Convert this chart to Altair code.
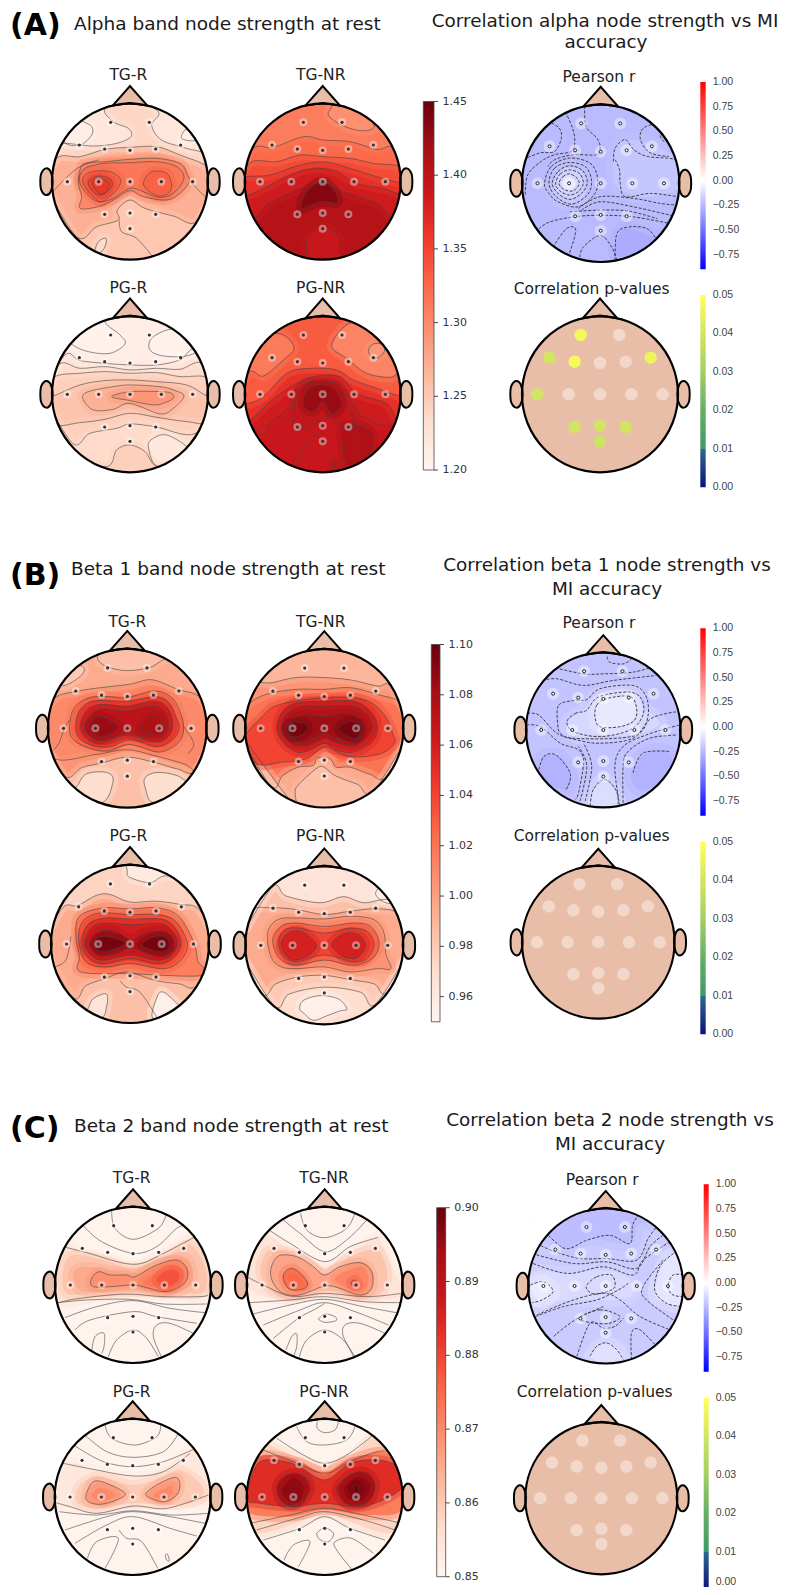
import altair as alt
import pandas as pd

N, NE, E, SE, S, SW, W, NW = "N", "NE", "E", "SE", "S", "SW", "W", "NW"
RIM = {"N": (0, -265), "NE": (187, -187), "E": (265, 0), "SE": (187, 187),
       "S": (0, 265), "SW": (-187, 187), "W": (-265, 0), "NW": (-187, -187)}
TOP = [E, NE, N, NW, W]
BOT = [E, SE, S, SW, W]

ELECTRODES = [(-58, -178), (58, -178), (-152, -110), (-76, -98), (0, -94), (77, -98), (152, -110),
              (-188, 0), (-94, 0), (0, 0), (94, 0), (188, 0), (-76, 98), (0, 94), (77, 98), (0, 141)]
P_A = [0.047, None, 0.04, 0.048, None, None, 0.046, 0.04, None, None, None, None, 0.04, 0.04, 0.04, 0.039]
EAR_L = [(-252, -40), (-238, -30), (-232, 0), (-238, 30), (-252, 40), (-266, 25), (-269, 0), (-266, -25)]
EAR_R = [(252, -40), (266, -25), (269, 0), (266, 25), (252, 40), (238, 30), (232, 0), (238, -30)]
NOSE = [(-52, -228), (0, -287), (52, -228), (0, -236)]

# Alpha band
A_TGR = dict(base=1.27, bands=[
 (1.24, 1, [(83,292),(150,290),(225,268),(300,262),(380,260),(450,285),(530,318),*TOP]),
 (1.222, 1, [(225,145),(250,185),(295,205),(303,230),(260,250),(190,258),(105,250),(90,262),NW,N]),
 (1.21, 1, [(103,245),(150,255),(185,225),(185,200),(160,185),(125,170),NW]),
 (1.222, 1, [(385,155),(365,195),(395,240),(470,265),(525,285),E,NE,N]),
 (1.208, 1, [(455,235),(465,210),(490,200),(510,225),(492,242)]),
 (1.252, 1, [(140,530),(200,500),(265,480),(262,450),(300,420),(345,445),(430,468),(500,485),*BOT]),
 (1.235, 1, [(195,575),(205,545),(228,535),(225,560),(210,578)]),
 (1.30, 1, [(150,330),(165,310),(225,305),(300,298),(380,295),(450,310),(470,340),(478,365),(450,400),(410,420),(340,410),(300,392),(250,420),(205,440),(150,445),(155,410),(145,370)]),
 (1.315, 1, [(148,360),(165,325),(225,310),(300,308),(380,305),(440,320),(462,355),(430,400),(385,412),(340,395),(300,385),(250,415),(205,425),(170,400)]),
 (1.33, 1, [(158,355),(185,335),(240,335),(272,360),(255,395),(215,425),(190,410),(165,380)]),
 (1.33, 1, [(340,368),(365,335),(410,340),(425,375),(415,400),(385,408),(355,392)]),
 (1.345, 1, [(175,365),(205,348),(240,358),(245,380),(215,405),(190,395)]),
 (1.36, 1, [(185,365),(210,355),(238,370),(225,398),(205,398)]),
], lines=[[(68,395),(112,350),(150,320),(205,300)], [(478,360),(500,385),(528,412)], [(268,480),(275,515),(320,535),(368,590)]])

A_TGN = dict(base=1.405, bands=[
 (1.385, 1, [(665,470),(715,430),(790,395),(815,385),(878,365),(940,395),(1040,430),(1100,475),*TOP]),
 (1.365, 1, [(645,405),(700,385),(780,345),(850,325),(920,335),(980,370),(1060,385),(1112,400),*TOP]),
 (1.345, 1, [(648,350),(720,345),(800,318),(880,305),(950,322),(1040,350),(1112,368),*TOP]),
 (1.325, 1, [(665,305),(740,305),(810,285),(878,290),(960,295),(1030,310),(1110,320),*TOP]),
 (1.31, 1, [(670,265),(730,262),(820,230),(880,240),(960,245),(1040,268),(1090,265),*TOP]),
 (1.295, 1, [(905,135),(895,165),(935,195),(990,212),(1030,205),(1030,180),NE,N]),
 (1.435, 1, [(815,445),(830,395),(878,365),(915,395),(920,428),(870,425)]),
 (1.39, 1, [(820,590),(830,540),(878,500),(925,530),(942,590),SE,S,SW]),
], lines=[])

A_PGR = dict(base=1.255, bands=[
 (1.245, 1, [(68,378),(150,345),(225,332),(300,330),(380,335),(470,345),(532,378),*TOP]),
 (1.235, 1, [(75,320),(150,310),(225,305),(300,310),(380,308),(450,320),(530,322),*TOP]),
 (1.225, 1, [(88,282),(150,295),(225,290),(300,300),(380,295),(450,298),(515,280),*TOP]),
 (1.213, 1, [(105,255),(150,272),(225,280),(300,285),(380,285),(450,270),(500,240),*TOP]),
 (1.205, 1, [(125,222),(175,245),(240,250),(285,222),(270,195),(225,150),N,NW]),
 (1.205, 1, [(420,178),(365,205),(360,240),(400,258),(470,258),(505,235),NE]),
 (1.245, 1, [(62,462),(150,458),(225,448),(300,430),(380,442),(470,455),(535,455),*BOT]),
 (1.235, 1, [(128,520),(180,490),(260,475),(300,462),(375,470),(498,490),*BOT]),
 (1.22, 1, [(385,590),(355,530),(370,505),(410,495),(468,528),SE]),
 (1.245, 1, [(230,590),(260,540),(300,525),(345,545),(385,590),SE,S,SW]),
 (1.27, 1, [(158,385),(175,365),(250,350),(300,345),(390,350),(430,360),(462,378),(430,415),(390,432),(300,400),(250,418),(190,420)]),
 (1.29, 1, [(245,380),(300,365),(390,365),(425,370),(430,385),(405,398),(370,405),(300,392)]),
], lines=[])

A_PGN = dict(base=1.39, bands=[
 (1.385, 1, [(690,490),(720,460),(790,400),(800,350),(850,330),(920,335),(970,400),(1000,440),(1085,465),*TOP]),
 (1.365, 1, [(645,455),(720,395),(790,345),(850,320),(930,320),(980,370),(1070,400),(1100,440),*TOP]),
 (1.335, 1, [(645,400),(700,380),(770,310),(840,295),(920,300),(970,330),(1040,355),(1110,378),*TOP]),
 (1.312, 1, [(660,305),(700,318),(760,270),(792,235),(760,195),(700,190),NW,W]),
 (1.305, 1, [(965,158),(905,225),(950,265),(1010,310),(1080,322),(1112,310),E,NE]),
 (1.29, 1, [(1015,245),(1030,222),(1062,225),(1060,250),(1035,265)]),
 (1.395, 1, [(792,470),(795,395),(820,345),(878,335),(930,350),(960,420),(980,470),(935,470),(890,440),(840,470)]),
 (1.425, 1, [(820,405),(835,355),(878,345),(915,360),(935,405),(905,430),(878,395),(850,425)]),
 (1.41, 1, [(935,480),(960,465),(1000,470),(1030,500),(1020,550),(985,590),(945,570)]),
 (1.40, 1, [(905,600),(910,575),(925,578),(930,600),S]),
], lines=[[(795,590),(835,510),(880,490)]])

# Beta 1 band
B_TGR = dict(base=1.01, bands=[
 (0.995, 1, [(75,268),(150,245),(215,235),(300,225),(365,212),(440,240),(508,265),*TOP]),
 (0.985, 1, [(208,138),(225,170),(290,185),(360,175),(410,150),NE,N]),
 (0.98, 1, [(100,228),(150,205),(165,178),(135,165),NW]),
 (1.005, 1, [(78,445),(200,432),(290,418),(370,435),(460,460),(510,480),*BOT]),
 (0.985, 1, [(105,495),(160,470),(215,458),(290,440),(370,455),(440,475),(495,480),*BOT]),
 (0.97, 1, [(140,530),(170,490),(230,485),(250,510),(215,575),SW]),
 (0.97, 1, [(372,575),(345,530),(345,500),(380,485),(440,495),(478,525),SE]),
 (1.02, 1, [(122,350),(135,295),(180,265),(240,262),(290,265),(370,245),(420,262),(445,300),(458,350),(445,395),(390,425),(330,410),(290,403),(230,422),(170,410),(130,385)]),
 (1.04, 1, [(140,350),(150,305),(190,275),(290,275),(370,262),(410,275),(435,320),(445,355),(425,390),(380,410),(330,395),(290,390),(240,410),(190,405),(150,385)]),
 (1.055, 1, [(155,350),(170,305),(210,285),(290,290),(370,275),(410,295),(425,350),(405,385),(370,395),(290,375),(215,400),(175,385)]),
 (1.07, 1, [(165,350),(190,310),(230,298),(290,305),(370,290),(405,310),(412,350),(390,380),(340,380),(290,370),(225,390),(185,380)]),
 (1.085, 1, [(183,350),(205,320),(245,335),(265,350),(245,370),(205,378)]),
 (1.078, 1, [(330,355),(355,325),(385,325),(400,355),(385,375),(350,372)]),
], lines=[[(68,425),(90,400),(105,360),(122,330)], [(458,350),(488,400),(470,430)]])

B_TGN = dict(base=1.02, bands=[
 (1.005, 1, [(652,290),(710,255),(800,240),(880,240),(960,235),(1040,255),(1110,280),*TOP]),
 (0.99, 1, [(668,233),(730,220),(800,205),(880,205),(960,212),(1040,230),(1080,232),*TOP]),
 (0.995, 1, [(725,525),(760,495),(805,470),(850,465),(860,445),(883,440),(905,450),(918,470),(960,470),(1015,490),(1068,498),*BOT]),
 (0.985, 1, [(785,570),(800,530),(858,475),(883,470),(915,495),(980,520),(1028,540),*BOT]),
 (1.04, 1, [(645,390),(700,320),(750,285),(880,265),(1000,270),(1060,315),(1085,370),(1090,400),(1050,430),(975,440),(930,430),(883,410),(830,445),(760,455),(682,460)]),
 (1.055, 1, [(745,350),(760,305),(800,280),(883,275),(970,275),(1020,305),(1040,350),(1025,395),(970,425),(920,420),(883,400),(840,420),(800,425),(760,395)]),
 (1.07, 1, [(755,350),(775,310),(820,290),(883,290),(960,288),(1005,310),(1025,350),(1005,385),(965,405),(915,395),(883,385),(830,405),(790,400),(765,380)]),
 (1.083, 1, [(775,355),(795,325),(830,315),(883,320),(950,310),(990,330),(1000,355),(985,385),(960,395),(910,380),(883,370),(825,395),(795,390)]),
 (1.095, 1, [(770,355),(790,338),(825,340),(835,355),(815,375),(785,380)]),
 (1.095, 1, [(925,355),(955,335),(985,340),(990,365),(975,385),(945,375)]),
], lines=[])

B_PGR = dict(base=0.995, bands=[
 (0.975, 1, [(100,265),(145,258),(200,228),(240,225),(300,248),(375,245),(450,255),(505,270),*TOP]),
 (0.96, 1, [(292,155),(300,175),(360,190),(405,170),NE,N]),
 (0.985, 1, [(130,530),(170,495),(225,475),(290,455),(375,480),(445,490),(498,495),*BOT]),
 (0.965, 1, [(168,570),(190,535),(230,520),(230,560),(210,590),SW]),
 (0.955, 1, [(372,595),(380,530),(400,515),(445,555),(450,570),SE]),
 (1.015, 1, [(150,290),(220,265),(300,268),(380,265),(445,290),(490,370),(500,420),(515,465),(300,460),(155,455),(150,410),(140,350)]),
 (1.03, 1, [(148,360),(160,305),(210,280),(300,285),(380,285),(435,305),(470,370),(450,420),(400,445),(300,430),(230,440),(170,425)]),
 (1.045, 1, [(158,370),(175,315),(225,295),(300,298),(390,298),(430,320),(450,370),(430,410),(385,430),(300,415),(225,430),(180,415)]),
 (1.06, 1, [(165,370),(190,320),(240,310),(300,315),(390,312),(425,335),(440,370),(420,405),(380,420),(300,405),(225,420),(190,410)]),
 (1.075, 1, [(180,370),(210,335),(260,335),(300,360),(345,340),(400,335),(430,365),(410,400),(370,405),(300,385),(225,405),(195,395)]),
 (1.095, 1, [(195,370),(215,350),(255,355),(285,370),(245,390),(210,392)]),
 (1.095, 1, [(335,375),(375,350),(410,355),(415,385),(385,395)]),
], lines=[[(270,480),(290,500),(330,515),(380,590)], [(75,440),(110,420),(125,350)]])

B_PGN = dict(base=0.995, bands=[
 (0.985, 1, [(665,275),(730,265),(800,270),(883,285),(960,275),(1040,268),(1105,285),*TOP]),
 (0.965, 1, [(728,205),(770,230),(870,250),(940,232),(1000,250),(1090,248),*TOP]),
 (0.955, 1, [(1045,205),(1035,225),(1055,245),(1082,248),NE]),
 (0.98, 1, [(698,520),(740,490),(805,470),(883,465),(960,478),(1030,490),(1068,515),*BOT]),
 (0.97, 1, [(735,555),(780,520),(883,500),(990,515),(1035,550),*BOT]),
 (0.955, 1, [(810,565),(820,540),(870,525),(925,535),(950,565),(930,570),(890,585),(850,598),(820,575)]),
 (1.005, 1, [(715,340),(745,300),(800,295),(883,298),(960,290),(1030,300),(1060,340),(1065,400),(1080,445),(1040,445),(960,455),(883,440),(805,445),(755,440),(725,410)]),
 (1.02, 1, [(730,360),(755,320),(800,310),(883,320),(970,310),(1020,320),(1045,365),(1030,410),(970,435),(883,420),(800,435),(750,415)]),
 (1.04, 1, [(748,365),(765,330),(810,325),(883,340),(960,325),(1010,335),(1030,375),(1010,415),(970,425),(883,405),(800,425),(760,405)]),
 (1.058, 1, [(755,370),(775,340),(815,335),(860,375),(830,410),(790,420),(765,400)]),
 (1.058, 1, [(905,370),(945,340),(985,345),(1005,375),(985,410),(955,415),(925,400)]),
], lines=[])

# Beta 2 band
C_TGR = dict(base=0.8505, bands=[
 (0.856, 0, [(88,425),(78,350),(108,265),(170,280),(250,300),(310,318),(400,280),(490,232),(520,280),(538,350),(528,410),(450,408),(320,405),(210,410)]),
 (0.861, 0, [(110,400),(100,330),(130,285),(220,300),(310,325),(400,295),(480,255),(528,330),(520,395),(440,400),(310,395),(200,400)]),
 (0.865, 0, [(150,390),(130,340),(170,320),(310,340),(400,305),(470,295),(490,350),(470,385),(400,400),(310,385),(220,395)]),
 (0.869, 1, [(183,360),(205,335),(240,345),(290,345),(315,350),(380,315),(440,300),(470,325),(470,360),(440,385),(400,395),(340,380),(305,375),(240,380),(190,380)]),
 (0.873, 0, [(340,365),(385,335),(430,315),(458,330),(455,360),(430,385),(400,385),(360,378)]),
 (0.878, 0, [(380,355),(415,330),(445,335),(445,360),(415,380),(395,378)]),
], lines=[
 [(245,150),(255,205),(310,238),(385,205),(408,165)],
 [(160,197),(215,245),(310,280),(380,260),(440,205),(472,195)],
 [(108,262),(170,278),(310,313),(400,280),(492,232)],
 [(80,430),(130,418),(240,405),(310,403),(400,410),(510,410),(535,405)],
 [(85,428),(170,420),(300,418),(400,432),(530,432)],
 [(105,473),(200,440),(310,422),(420,445),(525,458)],
 [(135,510),(180,480),(310,455),(380,470),(500,490)],
 [(185,575),(195,530),(222,520),(222,560),(215,580)],
 [(235,590),(260,540),(310,510),(350,535),(385,590)],
 [(395,592),(370,530),(380,495),(420,490),(490,520)]])

C_TGN = dict(base=0.8505, bands=[
 (0.855, 0, [(652,345),(670,270),(710,225),(780,270),(884,320),(960,280),(1040,235),(1075,300),(1110,370),(1110,410),(1000,420),(884,405),(760,420),(660,390)]),
 (0.861, 0, [(690,330),(720,270),(800,285),(884,340),(960,290),(1040,270),(1070,330),(1060,390),(1000,410),(884,390),(790,410),(720,390)]),
 (0.866, 1, [(722,330),(745,288),(800,290),(850,320),(884,345),(930,320),(990,308),(1025,335),(1025,385),(990,405),(930,385),(884,378),(810,405),(760,400),(730,370)]),
 (0.873, 1, [(760,345),(785,325),(815,345),(833,372),(815,388),(775,385)]),
 (0.871, 0, [(915,355),(990,320),(1015,350),(1005,390),(975,395)]),
 (0.875, 0, [(770,355),(790,340),(815,360),(820,378),(790,380)]),
 (0.877, 1, [(962,368),(975,360),(985,375),(970,378)]),
], lines=[
 [(812,160),(830,210),(884,233),(950,205),(978,150)],
 [(760,180),(810,220),(884,275),(950,240),(1010,180)],
 [(710,205),(780,250),(884,305),(960,260),(1045,232)],
 [(650,350),(720,385),(790,410),(884,400),(1010,410),(1115,400)],
 [(655,428),(780,420),(884,410),(1000,425),(1115,428)],
 [(670,462),(780,435),(884,418),(1000,440),(1110,460)],
 [(700,495),(810,450),(884,428),(975,455),(1075,495)],
 [(730,535),(805,475),(860,445),(884,430)],
 [(865,478),(884,462),(915,470),(918,482),(885,487),(865,478)],
 [(768,570),(785,530),(800,522),(800,560),(790,590)],
 [(808,590),(830,540),(884,510),(940,540),(970,590)],
 [(975,590),(940,530),(945,495),(990,490),(1065,520)]])

C_PGR = dict(base=0.8505, bands=[
 (0.854, 0, [(80,400),(105,280),(200,300),(310,320),(400,295),(490,238),(530,320),(535,400),(470,395),(310,405),(160,420),(90,405)]),
 (0.86, 0, [(140,395),(150,345),(210,320),(310,345),(400,320),(450,300),(510,340),(515,385),(440,405),(310,400),(200,415)]),
 (0.866, 1, [(168,375),(190,335),(230,340),(285,370),(260,390),(210,403),(175,395)]),
 (0.866, 1, [(347,372),(380,345),(435,322),(450,345),(440,375),(405,395),(370,388)]),
 (0.87, 0, [(185,378),(205,355),(240,360),(255,378),(215,395)]),
 (0.87, 0, [(370,375),(410,352),(430,350),(420,380),(395,388)]),
], lines=[
 [(225,165),(245,205),(315,225),(380,200),(392,165)],
 [(165,195),(230,245),(310,262),(400,245),(445,190)],
 [(135,228),(220,275),(310,290),(400,275),(490,238)],
 [(100,280),(200,300),(310,318),(400,305),(480,250)],
 [(78,398),(120,410),(200,430),(310,408),(410,415),(535,375)],
 [(88,425),(200,435),(310,422),(420,435),(535,430)],
 [(105,480),(230,440),(310,425),(420,440),(525,460)],
 [(135,520),(230,465),(310,440),(420,475),(500,498)],
 [(267,480),(290,505),(335,515),(383,595)],
 [(172,565),(200,515),(265,505),(225,595)],
 [(405,555),(412,552),(418,572),(410,570),(405,555)]])

C_PGN = dict(base=0.8505, bands=[
 (0.858, 0, [(655,390),(690,225),(730,230),(800,260),(884,290),(960,260),(1040,205),(1115,320),(1105,450),(1070,490),(960,455),(884,430),(810,455),(695,490),(660,460)]),
 (0.872, 0, [(655,370),(690,260),(800,275),(884,305),(960,270),(1060,245),(1110,300),(1115,420),(1000,435),(884,420),(780,440),(660,430)]),
 (0.884, 1, [(650,385),(680,285),(730,270),(800,285),(884,330),(960,280),(1040,270),(1100,290),(1115,355),(1000,410),(884,400),(790,410),(690,400)]),
 (0.891, 1, [(740,355),(755,325),(790,310),(825,320),(840,355),(825,385),(790,405),(755,395)]),
 (0.891, 1, [(920,360),(945,325),(985,305),(1020,315),(1035,350),(1020,390),(985,405),(945,400)]),
 (0.896, 0, [(755,360),(790,325),(820,350),(810,390),(780,395)]),
 (0.896, 0, [(945,350),(985,320),(1020,345),(1005,385),(975,395),(950,380)]),
 (0.899, 1, [(970,350),(980,345),(988,362),(975,368)]),
], lines=[
 [(862,155),(862,175),(884,188),(915,180),(925,155)],
 [(800,170),(830,215),(884,225),(950,210),(975,170)],
 [(740,205),(820,255),(884,280),(950,255),(1030,195)],
 [(700,240),(790,275),(884,310),(960,275),(1040,245),(1085,245)],
 [(660,460),(780,435),(884,415),(1000,435),(1115,460)],
 [(680,480),(800,445),(884,425),(1000,450),(1095,480)],
 [(700,510),(810,475),(884,440),(960,475),(1065,510)],
 [(860,490),(884,473),(910,490),(900,512),(884,515),(865,505),(860,490)],
 [(762,570),(790,525),(840,515),(805,590)],
 [(965,598),(920,540),(915,515),(965,505),(1030,550)]])

# Pearson r maps
A_R = dict(base=-0.24, bands=[
 (-0.29, [(370,505),(470,530),(505,500),(440,575),(350,585)]),
 (-0.2, [(340,300),(365,245),(440,250),(530,300),(535,380),(440,410),(350,380)]),
 (-0.19, [(160,370),(205,320),(260,350),(250,410),(205,430),(165,410)]),
 (-0.1, [(185,370),(207,345),(230,370),(207,395)]),
], lines=[
 [(197,158),(218,205),(225,245),(215,275),(165,285),(125,305),(85,345),(78,405)],
 [(143,185),(178,205),(185,235),(165,275),(120,280),(70,300)],
 [(255,140),(258,200),(290,235),(300,260),(290,285),(220,285),(165,300),(145,320)],
 [(340,305),(345,265),(375,240),(400,270),(440,290),(500,295),(530,300)],
 [(345,300),(358,330),(360,370),(375,410),(450,400),(530,410)],
 [(480,190),(430,205),(420,240),(450,280),(505,290)],
 [(478,228),(490,245),(520,240)],
 [(235,445),(300,410),(400,415),(480,430),(530,435)],
 [(245,450),(300,425),(400,440),(530,470)],
 [(210,455),(290,450),(380,452),(470,475)],
 [(118,505),(150,485),(220,470),(300,465),(400,470),(510,490)],
 [(160,560),(200,505),(228,510),(205,590)],
 [(240,590),(250,560),(300,525),(335,560),(350,600)],
 [(345,600),(350,520),(385,500),(440,505),(470,540)]],
 rings=[
 [(135,370),(155,320),(210,295),(270,310),(292,350),(285,400),(235,440),(175,425),(148,400)],
 [(148,370),(165,325),(210,308),(258,322),(275,365),(262,405),(215,432),(170,410)],
 [(158,370),(175,335),(210,318),(248,332),(262,368),(245,400),(210,418),(175,400)],
 [(168,370),(182,342),(210,330),(240,342),(250,370),(235,395),(208,405),(180,392)],
 [(178,370),(190,350),(210,342),(232,355),(238,372),(225,390),(207,393),(188,385)]])

B_R = dict(base=-0.21, bands=[
 (-0.14, [(200,340),(260,290),(300,250),(400,240),(430,290),(480,340),(400,375),(300,375),(230,380)]),
 (-0.08, [(285,310),(300,270),(380,258),(410,300),(380,345),(300,350)]),
 (-0.27, [(120,470),(130,440),(180,440),(210,490),(200,540),(120,510)]),
 (-0.27, [(395,490),(440,430),(510,430),(510,510),(420,540)]),
 (-0.12, [(270,560),(310,510),(350,550),(350,590),(270,590)]),
], lines=[
 [(322,138),(330,155),(370,160),(395,145)],
 [(165,172),(250,190),(310,190),(400,185),(470,165)],
 [(125,210),(170,205),(250,225),(340,210),(470,195)],
 [(80,310),(115,315),(170,370),(230,390),(300,400),(400,385),(455,325),(530,305)],
 [(78,345),(120,350),(180,400),(235,420),(250,460),(235,550),(225,570)],
 [(370,580),(370,470),(385,425),(450,385),(535,375)],
 [(360,590),(345,470),(370,410),(440,375),(540,345)],
 [(240,575),(260,470),(235,410)],
 [(255,575),(275,470),(250,400)],
 [(115,480),(130,440),(165,435),(205,480),(210,510),(195,545)],
 [(400,490),(430,430),(510,425)],
 [(270,590),(280,540),(315,510),(350,545),(355,590)]],
 rings=[
 [(200,335),(225,310),(260,300),(295,260),(385,245),(425,265),(430,315),(390,360),(300,380),(220,365)],
 [(285,320),(290,285),(320,265),(390,258),(410,290),(405,330),(360,350),(300,350)],
 [(172,340),(175,285),(225,270),(260,268),(300,235),(400,225),(440,260),(445,320),(420,370),(350,385),(220,385),(180,370)]])

C_R = dict(base=-0.18, bands=[
 (-0.23, [(135,215),(200,265),(270,235),(390,250),(420,190),NE,N,NW]),
 (-0.13, [(95,340),(200,340),(300,330),(380,350),(400,400),(350,420),(200,420),(90,440)]),
 (-0.09, [(465,400),(490,310),(525,280),(550,300),(550,430),(500,430)]),
 (-0.07, [(90,380),(130,365),(160,395),(120,425)]),
 (-0.1, [(270,590),(320,550),(370,590),(320,610)]),
], lines=[
 [(135,215),(195,265),(260,240),(330,225),(390,250),(398,195),(415,165)],
 [(108,250),(165,275),(240,295),(320,295),(410,300),(445,235),(470,200)],
 [(95,280),(220,310),(320,305),(410,325),(450,260),(490,225)],
 [(85,305),(200,340),(310,320),(400,345),(430,300),(510,245)],
 [(90,375),(130,365),(158,395),(125,420),(95,428)],
 [(552,345),(520,345),(505,380),(520,405),(552,410)],
 [(522,280),(480,320),(465,390),(500,430),(548,440)],
 [(490,300),(430,380),(440,420),(535,490)],
 [(105,470),(190,440),(290,420),(355,390),(385,370)],
 [(110,465),(220,420),(310,400),(360,420),(420,470),(510,510)],
 [(160,530),(225,480),(310,440)],
 [(230,590),(270,490),(310,505),(345,500),(370,475)],
 [(270,590),(290,560),(320,550),(350,570),(370,600)],
 [(395,600),(395,520),(420,510),(470,560)]],
 rings=[
 [(258,380),(290,350),(335,345),(345,380),(320,395),(280,402)],
 [(235,475),(300,450),(360,470),(330,490),(280,490)]])

# head: key, centre x, centre y, radius, source, reference origin used while reading, value range
HEADS = [
 ("atgr",130,181.7,78,A_TGR,(300,365),1.20,1.45), ("atgn",322.7,181.7,78,A_TGN,(878,365),1.20,1.45),
 ("apgr",130,394.3,78,A_PGR,(300,373),1.20,1.45), ("apgn",322.7,394.3,78,A_PGN,(878,373),1.20,1.45),
 ("btgr",127.3,728.3,79.4,B_TGR,(292,355),0.95,1.10), ("btgn",324.3,728.3,79.2,B_TGN,(883,355),0.95,1.10),
 ("bpgr",130,944,79,B_PGR,(300,372),0.95,1.10), ("bpgn",324.3,945.3,79,B_PGN,(883,376),0.95,1.10),
 ("ctgr",133,1285,78,C_TGR,(309,375),0.85,0.90), ("ctgn",324.7,1285,78,C_TGN,(884,375),0.85,0.90),
 ("cpgr",132.7,1497,78,C_PGR,(308,381),0.85,0.90), ("cpgn",324.7,1497,78,C_PGN,(884,381),0.85,0.90),
]
RHEADS = [("ar",600.7,183.3,78.7,A_R,(302,370)), ("br",603.3,730,77.3,B_R,(310,360)), ("cr",605.7,1286,77.5,C_R,(317,378))]
PHEADS = [("ap",600,394.3,78,P_A), ("bp",598.3,942.3,76.3,[None]*16), ("cp",601.3,1498.3,76,[None]*16)]

A_TITLES = [("(A)",10,35), ("(B)",10,585), ("(C)",10,1138)]
LEFT_TITLES = [("Alpha band node strength at rest",74,30), ("Beta 1 band node strength at rest",71,575), ("Beta 2 band node strength at rest",74,1132)]
RIGHT_TITLES = [("Correlation alpha node strength vs MI",605,27), ("accuracy",606,48),
                ("Correlation beta 1 node strength vs",607,571), ("MI accuracy",607,595),
                ("Correlation beta 2 node strength vs",610,1126), ("MI accuracy",610,1150)]
SUBS = [("TG-R",128.3,80),("TG-NR",320.7,80),("PG-R",128.3,293),("PG-NR",320.7,293),("Pearson r",599,82),("Correlation p-values",591.7,294),
        ("TG-R",127.3,626.7),("TG-NR",320.7,626.7),("PG-R",128.3,840.7),("PG-NR",320.7,840.7),("Pearson r",599,628.3),("Correlation p-values",591.7,840.7),
        ("TG-R",131.7,1182.7),("TG-NR",324,1182.7),("PG-R",131.7,1396.7),("PG-NR",324,1396.7),("Pearson r",602.3,1185),("Correlation p-values",594.7,1396.7)]

# colour bars: x0, x1, y at low end, y at high end, low, high, ticks
RED_BARS = [(423.3,434,470,101.5,1.20,1.45,[1.20,1.25,1.30,1.35,1.40,1.45]),
            (431.3,440,1021.8,644.5,0.95,1.10,[0.96,0.98,1.00,1.02,1.04,1.06,1.08,1.10]),
            (436.7,445.7,1576.7,1207.7,0.85,0.90,[0.85,0.86,0.87,0.88,0.89,0.90])]
R_BARS = [(700.3,705.7,269.3,82), (700.3,705.7,815.7,628.3), (703.7,708.7,1371.7,1184.3)]
P_BARS = [(700.3,705.7,487.3,295), (700.3,705.7,1034.3,841.7), (703.7,708.7,1590,1397.7)]
R_TICKS = [1.00,0.75,0.50,0.25,0.00,-0.25,-0.50,-0.75]
P_TICKS = [0.05,0.04,0.03,0.02,0.01,0.00]
R_STEP = 24.67 / 0.25

REDS = ["#fff5f0","#fee0d2","#fcbba1","#fc9272","#fb6a4a","#ef3b2c","#cb181d","#a50f15","#67000d"]
RED_POS = [0,0.125,0.25,0.375,0.5,0.625,0.75,0.875,1]
P_POS = [0,0.0099,0.01,0.02,0.03,0.04,0.05]
P_COL = ["#10107c","#2b6a8a","#3e9a68","#66ae66","#a4cf63","#d2e562","#ffff57"]
SKIN = "#e8bea8"
PAGE_RIGHT, PAGE_BOTTOM = 780, 1587

def place(h, pt, org=None):
    cx, cy, r = h
    if isinstance(pt, str):
        dx, dy = RIM[pt]
    elif org is None:
        dx, dy = pt
    else:
        dx, dy = pt[0] - org[0], pt[1] - org[1]
    return cx + dx / 3 * r / 78, cy + dy / 3 * r / 78

fills, outs, opens, rfills, rlines, rrings, bases, rbases, heads, halos, shapes, nose = ([] for _ in range(12))
def add(rows, key, h, pts, org=None, **kw):
    for i, p in enumerate(pts):
        x, y = place(h, p, org)
        rows.append(dict(id=key, i=i, x=x, y=y, **kw))

for key, cx, cy, r, src, org, lo, hi in HEADS:
    h = (cx, cy, r)
    heads.append(dict(x=cx, y=cy, d=(2*r)**2, m=(2*r+18)**2))
    bases.append(dict(x=cx, y=cy, d=(2*r)**2, f=(src["base"]-lo)/(hi-lo)))
    for n, (v, ln, pts) in enumerate(src["bands"]):
        add(fills, f"{key}{n:02d}", h, pts, org, f=(v-lo)/(hi-lo))
        if ln:
            add(outs, f"{key}{n:02d}", h, pts, org)
    for n, pts in enumerate(src["lines"]):
        add(opens, f"{key}{n:02d}", h, pts, org)
for key, cx, cy, r, src, org in RHEADS:
    h = (cx, cy, r)
    heads.append(dict(x=cx, y=cy, d=(2*r)**2, m=(2*r+18)**2))
    rbases.append(dict(x=cx, y=cy, d=(2*r)**2, v=src["base"]))
    for n, (v, pts) in enumerate(src["bands"]):
        add(rfills, f"{key}{n:02d}", h, pts, org, v=v)
    for n, pts in enumerate(src["lines"]):
        add(rlines, f"{key}{n:02d}", h, pts, org)
    for n, pts in enumerate(src["rings"]):
        add(rrings, f"{key}{n:02d}", h, pts, org)

for hd in [(k, x, y, r) for k, x, y, r, *_ in HEADS] + [(k, x, y, r) for k, x, y, r, *_ in RHEADS] + [(k, x, y, r) for k, x, y, r, _ in PHEADS]:
    k, x, y, r = hd
    add(shapes, k + "L", (x, y, r), EAR_L)
    add(shapes, k + "R", (x, y, r), EAR_R)
    add(nose, k, (x, y, r), NOSE)
    if not k.endswith("p"):
        for e in ELECTRODES:
            px, py = place((x, y, r), e)
            halos.append(dict(x=px, y=py, kind="r" if k.endswith("r") and len(k) == 2 else "t"))

pale, sig, pbases = [], [], []
for k, x, y, r, ps in PHEADS:
    heads.append(dict(x=x, y=y, d=(2*r)**2, m=(2*r+18)**2))
    pbases.append(dict(x=x, y=y, d=(2*r)**2))
    for e, p in zip(ELECTRODES, ps):
        px, py = place((x, y, r), e)
        if p is None:
            pale.append(dict(x=px, y=py))
        else:
            sig.append(dict(x=px, y=py, p=p))

bar_red, bar_r, bar_p, tick_rules, lab_dv, lab_ls = [], [], [], [], [], []
for x0, x1, y0, y1, lo, hi, ticks in RED_BARS:
    bar_red.append(dict(x=x0, x2=x1, y=y0, y2=y1))
    for t in ticks:
        y = y0 + (t-lo)/(hi-lo)*(y1-y0)
        tick_rules.append(dict(x=x1, x2=x1+4, y=y))
        lab_dv.append(dict(x=x1+8.5, y=y, t=f"{t:.2f}"))
for x0, x1, y0, y1 in R_BARS:
    bar_r.append(dict(x=x0, x2=x1, y=y0, y2=y1))
    for t in R_TICKS:
        s = f"{t:.2f}".replace("-", "\u2212")
        lab_ls.append(dict(x=x1+7, y=y1+(1-t)*R_STEP, t=s))
for x0, x1, y0, y1 in P_BARS:
    bar_p.append(dict(x=x0, x2=x1, y=y0, y2=y1))
    for t in P_TICKS:
        lab_ls.append(dict(x=x1+7, y=min(y1+(0.05-t)/0.05*(y0-y1), PAGE_BOTTOM-5), t=f"{t:.2f}"))

X = alt.X("x:Q", scale=alt.Scale(domain=[8, PAGE_RIGHT], nice=False, zero=False), axis=None)
Y = alt.Y("y:Q", scale=alt.Scale(domain=[PAGE_BOTTOM, 8], nice=False, zero=False), axis=None)
D = lambda rows: alt.Data(values=rows)
red_scale = alt.Scale(domain=RED_POS, range=REDS, interpolate="rgb")
bwr_scale = alt.Scale(domain=[-0.89, 0, 1], range=["#0000ff", "#ffffff", "#ff0000"], interpolate="rgb")
p_scale = alt.Scale(domain=P_POS, range=P_COL, interpolate="rgb")
SZ = alt.Size("d:Q", scale=None, legend=None)
MSZ = alt.Size("m:Q", scale=None, legend=None)
PATH = dict(x=X, y=Y, detail="id:N", order="i:Q")

def poly(rows, **mk):
    return alt.Chart(D(rows)).mark_line(**mk)

layers = [
    alt.Chart(D(bases)).mark_point(shape="circle", filled=True, opacity=1).encode(x=X, y=Y, size=SZ, fill=alt.Fill("f:Q", scale=red_scale, legend=None)),
    alt.Chart(D(rbases)).mark_point(shape="circle", filled=True, opacity=1).encode(x=X, y=Y, size=SZ, fill=alt.Fill("v:Q", scale=bwr_scale, legend=None)),
    alt.Chart(D(pbases)).mark_point(shape="circle", filled=True, opacity=1, fill=SKIN).encode(x=X, y=Y, size=SZ),
    poly(fills, interpolate="cardinal-closed", strokeWidth=10, strokeOpacity=0.4).encode(
        fill=alt.Fill("f:Q", scale=red_scale, legend=None), stroke=alt.Stroke("f:Q", scale=red_scale, legend=None), **PATH),
    poly(rfills, interpolate="cardinal-closed", strokeWidth=14, strokeOpacity=0.4).encode(
        fill=alt.Fill("v:Q", scale=bwr_scale, legend=None), stroke=alt.Stroke("v:Q", scale=bwr_scale, legend=None), **PATH),
    poly(outs, interpolate="cardinal-closed", stroke="#444444", strokeWidth=0.7, opacity=0.85).encode(**PATH),
    poly(opens, interpolate="cardinal", stroke="#444444", strokeWidth=0.7, opacity=0.85).encode(**PATH),
    poly(rlines, interpolate="cardinal", stroke="#333333", strokeWidth=0.9, strokeDash=[3, 1.6]).encode(**PATH),
    poly(rrings, interpolate="cardinal-closed", stroke="#333333", strokeWidth=0.9, strokeDash=[3, 1.6]).encode(**PATH),
    alt.Chart(D(heads)).mark_point(shape="circle", filled=False, stroke="white", strokeWidth=18, opacity=1).encode(x=X, y=Y, size=MSZ),
    poly(shapes, interpolate="cardinal-closed", fill=SKIN, stroke="black", strokeWidth=2).encode(**PATH),
    poly(nose, interpolate="linear-closed", fill=SKIN, stroke="black", strokeWidth=2).encode(**PATH),
    alt.Chart(D(heads)).mark_point(shape="circle", filled=False, stroke="black", strokeWidth=2.2, opacity=1).encode(x=X, y=Y, size=SZ),
    alt.Chart(D([h for h in halos if h["kind"] == "t"])).mark_point(shape="circle", filled=True, fill="white", opacity=0.4, size=64).encode(x=X, y=Y),
    alt.Chart(D([h for h in halos if h["kind"] == "t"])).mark_point(shape="circle", filled=True, fill="#333333", opacity=1, size=10).encode(x=X, y=Y),
    alt.Chart(D([h for h in halos if h["kind"] == "r"])).mark_point(shape="circle", filled=True, fill="white", opacity=0.4, size=144).encode(x=X, y=Y),
    alt.Chart(D([h for h in halos if h["kind"] == "r"])).mark_point(shape="circle", filled=True, fill="white", stroke="#222222", strokeWidth=1, opacity=1, size=9).encode(x=X, y=Y),
    alt.Chart(D(pale)).mark_point(shape="circle", filled=True, fill="white", opacity=0.4, size=156).encode(x=X, y=Y),
    alt.Chart(D(sig)).mark_point(shape="circle", filled=True, opacity=1, size=156).encode(x=X, y=Y, fill=alt.Fill("p:Q", scale=p_scale, legend=None)),
    alt.Chart(D(bar_red)).mark_rect(
        fill={"gradient": "linear", "x1": 0, "x2": 0, "y1": 1, "y2": 0,
              "stops": [{"offset": o, "color": c} for o, c in zip(RED_POS, REDS)]},
        stroke="#444444", strokeWidth=0.8).encode(x=X, x2="x2:Q", y=Y, y2="y2:Q"),
    alt.Chart(D(bar_r)).mark_rect(
        fill={"gradient": "linear", "x1": 0, "x2": 0, "y1": 1, "y2": 0,
              "stops": [{"offset": 0, "color": "#0000ff"}, {"offset": 0.473, "color": "#ffffff"}, {"offset": 1, "color": "#ff0000"}]}
        ).encode(x=X, x2="x2:Q", y=Y, y2="y2:Q"),
    alt.Chart(D(bar_p)).mark_rect(
        fill={"gradient": "linear", "x1": 0, "x2": 0, "y1": 1, "y2": 0,
              "stops": [{"offset": o / 0.05, "color": c} for o, c in zip(P_POS, P_COL)]}
        ).encode(x=X, x2="x2:Q", y=Y, y2="y2:Q"),
    alt.Chart(D(tick_rules)).mark_rule(color="#333333", strokeWidth=0.9).encode(x=X, x2="x2:Q", y=Y),
    alt.Chart(D(lab_dv)).mark_text(font="DejaVu Sans", fontSize=11, align="left", baseline="middle", color="#333333").encode(x=X, y=Y, text="t:N"),
    alt.Chart(D(lab_ls)).mark_text(font="Liberation Sans", fontSize=10.5, align="left", baseline="middle", color="#444444").encode(x=X, y=Y, text="t:N"),
    alt.Chart(D([dict(t=t, x=x, y=y) for t, x, y in A_TITLES])).mark_text(font="DejaVu Sans", fontWeight="bold", fontSize=30, align="left", baseline="alphabetic", color="black").encode(x=X, y=Y, text="t:N"),
    alt.Chart(D([dict(t=t, x=x, y=y) for t, x, y in LEFT_TITLES])).mark_text(font="DejaVu Sans", fontSize=18.5, align="left", baseline="alphabetic", color="#1a1a1a").encode(x=X, y=Y, text="t:N"),
    alt.Chart(D([dict(t=t, x=x, y=y) for t, x, y in RIGHT_TITLES])).mark_text(font="DejaVu Sans", fontSize=18.4, align="center", baseline="alphabetic", color="#1a1a1a").encode(x=X, y=Y, text="t:N"),
    alt.Chart(D([dict(t=t, x=x, y=y) for t, x, y in SUBS])).mark_text(font="DejaVu Sans", fontSize=15.5, align="center", baseline="alphabetic", color="#222222").encode(x=X, y=Y, text="t:N"),
]

chart = alt.layer(*layers).resolve_scale(fill="independent", stroke="independent").properties(
    width=772, height=1579, padding=0, autosize=alt.AutoSizeParams(type="none")
).configure_view(stroke=None)

chart.save("out.html", embed_options={"renderer": "svg", "actions": False})
